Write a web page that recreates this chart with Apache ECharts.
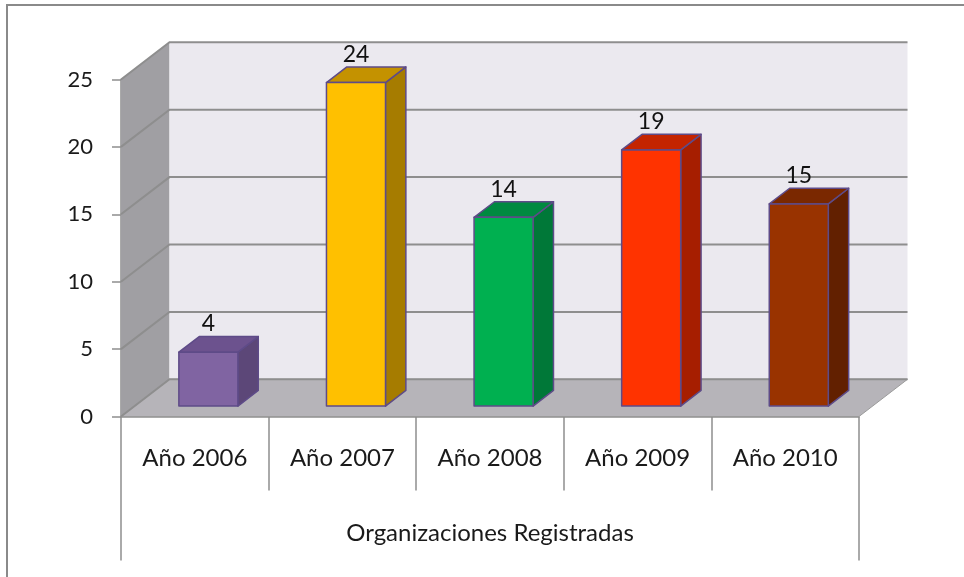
<!DOCTYPE html>
<html>
<head>
<meta charset="utf-8">
<script src="https://cdn.jsdelivr.net/npm/echarts@6/dist/echarts.min.js"></script>
<style>
    html, body { margin: 0; padding: 0; background: #fff; }
    #chart { width: 964px; height: 577px; }
</style>
</head>
<body>
<div id="chart"></div>
<script>
// data
var years = ['Año 2006', 'Año 2007', 'Año 2008', 'Año 2009', 'Año 2010'];
var groupName = 'Organizaciones Registradas';
var counts = [4, 24, 14, 19, 15];
var yTicks = [0, 5, 10, 15, 20, 25];

// bar colours: front, side, top
var frontColors = ['#8064a2', '#ffc000', '#00b050', '#ff3300', '#993300'];
var sideColors = ['#5c4778', '#a67c00', '#007838', '#a61e00', '#622000'];
var topColors = ['#6c528e', '#c49200', '#008a40', '#c42400', '#7a2800'];

var DX = 48.5, DY = 37.2;   // depth of the 3d box in pixels
var FONT = 'Lato';

var myChart = echarts.init(document.getElementById('chart'));

// project a data point pushed back by depth d (0 = front, 1 = back wall)
var proj = function(api, x, y, d) {
    var p = api.coord([x, y]);
    return [p[0] + d * DX, p[1] - d * DY];
};

var renderWalls = function(params, api) {
    var nCat = years.length;
    var yMax = yTicks[yTicks.length - 1];
    var children = [];
    // side wall
    children.push({
        type: 'polygon',
        shape: { points: [proj(api, 0, 0, 0), proj(api, 0, yMax, 0), proj(api, 0, yMax, 1), proj(api, 0, 0, 1)] },
        style: { fill: '#a09fa3' }
    });
    // back wall
    children.push({
        type: 'polygon',
        shape: { points: [proj(api, 0, 0, 1), proj(api, 0, yMax, 1), proj(api, nCat, yMax, 1), proj(api, nCat, 0, 1)] },
        style: { fill: '#ebe9ef' }
    });
    // floor
    children.push({
        type: 'polygon',
        shape: { points: [proj(api, 0, 0, 0), proj(api, 0, 0, 1), proj(api, nCat, 0, 1), proj(api, nCat, 0, 0)] },
        style: { fill: '#b6b4b9', stroke: '#9a9a9a', lineWidth: 1 }
    });
    // grid lines on side and back walls
    yTicks.forEach(function(v) {
        children.push({
            type: 'polyline',
            shape: { points: [proj(api, 0, v, 0), proj(api, 0, v, 1), proj(api, nCat, v, 1)] },
            style: { stroke: '#8e8e8e', lineWidth: 2, fill: null }
        });
    });
    return { type: 'group', children: children };
};

var renderBar = function(params, api) {
    var i = params.dataIndex;
    var cx = api.value(0);
    var v = api.value(1);
    var half = 0.2;
    var d1 = 0.28, d2 = 0.70;
    var fl = proj(api, cx - half, 0, d1), fr = proj(api, cx + half, 0, d1);
    var tl = proj(api, cx - half, v, d1), tr = proj(api, cx + half, v, d1);
    var btl = proj(api, cx - half, v, d2), btr = proj(api, cx + half, v, d2);
    var bbr = proj(api, cx + half, 0, d2);
    var edge = { stroke: '#5e4b88', lineWidth: 1.5, lineJoin: 'round' };
    var labelPos = proj(api, cx, v, d2);
    return {
        type: 'group',
        children: [
            {
                type: 'polygon',
                shape: { points: [fr, tr, btr, bbr] },
                style: Object.assign({ fill: sideColors[i] }, edge)
            },
            {
                type: 'polygon',
                shape: { points: [tl, btl, btr, tr] },
                style: Object.assign({ fill: topColors[i] }, edge)
            },
            {
                type: 'polygon',
                shape: { points: [fl, tl, tr, fr] },
                style: Object.assign({ fill: frontColors[i] }, edge)
            },
            {
                type: 'text',
                x: (tl[0] + tr[0]) / 2,
                y: labelPos[1] - 1,
                style: {
                    text: String(v),
                    fill: '#111',
                    font: '23px ' + FONT,
                    align: 'center',
                    verticalAlign: 'bottom'
                }
            }
        ]
    };
};

var option = {
    animation: false,
    graphic: [{
        type: 'polyline',
        shape: { points: [[7, 577], [7, 5], [964, 5]] },
        style: { stroke: '#8a8a8a', lineWidth: 2, fill: null }
    }],
    grid: {
        left: 121,
        right: 105,
        top: 79.5,
        bottom: 160.5
    },
    xAxis: [
        {
            type: 'category',
            data: years,
            position: 'bottom',
            axisLine: { show: true, lineStyle: { color: '#8e8e8e', width: 1.5 } },
            axisTick: { show: true, interval: 0, length: 74, lineStyle: { color: '#8e8e8e', width: 1.5 } },
            axisLabel: { interval: 0, margin: 30, color: '#1a1a1a', fontFamily: FONT, fontSize: 24 },
            splitLine: { show: false }
        },
        {
            type: 'value',
            min: 0,
            max: years.length,
            show: false
        },
        {
            type: 'category',
            data: [groupName],
            position: 'bottom',
            offset: 74,
            axisLine: { show: false },
            axisTick: { show: true, length: 70, lineStyle: { color: '#8e8e8e', width: 1.5 } },
            axisLabel: { margin: 31, color: '#1a1a1a', fontFamily: FONT, fontSize: 24 }
        }
    ],
    yAxis: {
        type: 'value',
        min: 0,
        max: 25,
        interval: 5,
        axisLine: { show: true, lineStyle: { color: '#8e8e8e', width: 1.5 } },
        axisTick: { show: true, length: 9, lineStyle: { color: '#8e8e8e', width: 1.5 } },
        axisLabel: { margin: 28, color: '#1a1a1a', fontFamily: FONT, fontSize: 22 },
        splitLine: { show: false }
    },
    series: [
        {
            type: 'custom',
            name: 'walls',
            xAxisIndex: 1,
            z: 1,
            silent: true,
            renderItem: renderWalls,
            data: [[0, 0]]
        },
        {
            type: 'custom',
            name: 'Organizaciones',
            xAxisIndex: 1,
            z: 2,
            renderItem: renderBar,
            data: counts.map(function(v, i) { return [i + 0.5, v]; })
        }
    ]
};

myChart.setOption(option, true);
</script>
</body>
</html>
